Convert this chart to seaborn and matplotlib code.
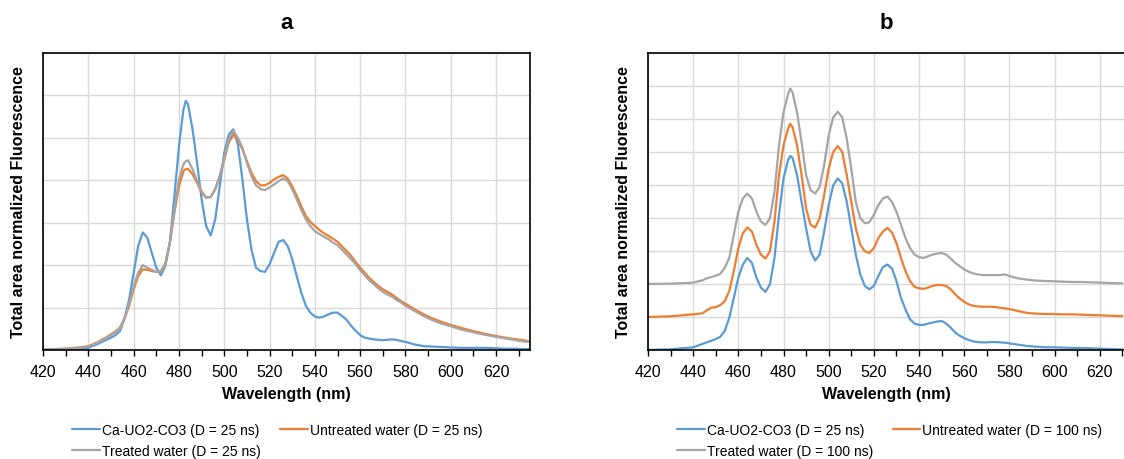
import matplotlib
matplotlib.use("Agg")
import matplotlib.pyplot as plt
import seaborn as sns
import pandas as pd
from matplotlib.ticker import MultipleLocator, NullFormatter

# ---------------- data (panel a) ----------------
wl_a = [420, 430, 436, 440, 444, 448,
        450, 452, 454, 456, 458, 460, 462, 464, 466, 468, 470, 472, 474, 476, 478, 480, 482,
        483,
        484, 486, 488, 490, 492, 494, 496, 498, 500, 502, 504, 506, 508, 510, 512, 514, 516, 518,
        520, 522, 524, 526, 528, 530, 532, 534, 536, 538, 540, 542, 544, 546, 548, 550, 552, 554,
        556, 558, 560, 562, 564, 566, 568, 570, 572, 574, 576, 578, 580,
        584, 588, 592, 596, 600, 604, 608, 612, 616, 620, 624, 628, 632, 635]

ca_a = [0.00, 0.01, 0.02, 0.05, 0.14, 0.24,
        0.29, 0.35, 0.45, 0.75, 1.19, 1.82, 2.45, 2.77, 2.65, 2.29, 1.94, 1.76, 1.98, 2.53, 3.63, 4.81, 5.67,
        5.87,
        5.79, 5.20, 4.41, 3.55, 2.92, 2.70, 3.08, 3.86, 4.65, 5.08, 5.20, 4.85, 4.02, 3.08, 2.37, 1.94, 1.86, 1.84,
        2.02, 2.29, 2.55, 2.59, 2.45, 2.14, 1.74, 1.35, 1.04, 0.88, 0.79, 0.76, 0.79, 0.84, 0.88, 0.88, 0.80, 0.71,
        0.57, 0.45, 0.35, 0.29, 0.27, 0.25, 0.24, 0.23, 0.24, 0.25, 0.24, 0.21, 0.19,
        0.13, 0.09, 0.08, 0.07, 0.06, 0.05, 0.05, 0.05, 0.05, 0.04, 0.03, 0.03, 0.02, 0.02]

untreated_a = [0.01, 0.03, 0.06, 0.09, 0.18, 0.30,
               0.37, 0.44, 0.53, 0.75, 1.04, 1.43, 1.74, 1.90, 1.89, 1.86, 1.84, 1.86, 2.04, 2.53, 3.24, 3.86, 4.22,
               4.26,
               4.27, 4.14, 3.94, 3.71, 3.59, 3.61, 3.79, 4.10, 4.49, 4.89, 5.08, 4.96, 4.73, 4.45, 4.18, 3.98, 3.88, 3.88,
               3.94, 4.02, 4.08, 4.12, 4.04, 3.86, 3.63, 3.39, 3.16, 3.02, 2.92, 2.83, 2.75, 2.69, 2.62, 2.55, 2.44, 2.33,
               2.22, 2.07, 1.94, 1.82, 1.70, 1.60, 1.51, 1.43, 1.37, 1.31, 1.23, 1.15, 1.09,
               0.96, 0.84, 0.74, 0.66, 0.59, 0.53, 0.47, 0.42, 0.37, 0.33, 0.29, 0.26, 0.23, 0.20]

treated_a = [0.01, 0.03, 0.05, 0.08, 0.17, 0.28,
             0.35, 0.42, 0.52, 0.76, 1.08, 1.50, 1.82, 2.00, 1.94, 1.89, 1.84, 1.85, 2.03, 2.55, 3.31, 4.02, 4.38,
             4.45,
             4.47, 4.26, 3.98, 3.74, 3.60, 3.60, 3.78, 4.10, 4.52, 4.96, 5.16, 5.00, 4.77, 4.41, 4.10, 3.88, 3.79, 3.77,
             3.83, 3.90, 3.98, 4.04, 3.98, 3.79, 3.55, 3.30, 3.08, 2.92, 2.80, 2.73, 2.67, 2.61, 2.53, 2.47, 2.36, 2.25,
             2.14, 2.02, 1.88, 1.76, 1.64, 1.55, 1.45, 1.37, 1.31, 1.26, 1.18, 1.12, 1.04,
             0.92, 0.80, 0.70, 0.62, 0.56, 0.49, 0.44, 0.39, 0.35, 0.31, 0.27, 0.24, 0.20, 0.19]

# ---------------- data (panel b) ----------------
wl_b = [420, 430, 440, 444, 446, 448,
        450, 452, 454, 456, 458, 460, 462, 464, 466, 468, 470, 472, 474, 476, 478, 480, 482,
        483,
        484, 486, 488, 490, 492, 494, 496, 498, 500, 502, 504, 506, 508, 510, 512, 514, 516, 518,
        520, 522, 524, 526, 528, 530, 532, 534, 536, 538, 540, 542, 544, 546, 548, 550, 552, 554,
        556, 558, 560, 562, 564, 566, 568, 570, 572, 574, 576, 578, 580,
        584, 588, 592, 596, 600, 604, 608, 612, 616, 620, 624, 628, 630]

ca_b = [0.00, 0.02, 0.08, 0.18, 0.23, 0.28,
        0.33, 0.40, 0.58, 0.98, 1.58, 2.19, 2.59, 2.79, 2.64, 2.19, 1.89, 1.76, 1.99, 2.79, 4.09, 5.20, 5.75,
        5.88,
        5.82, 5.30, 4.49, 3.69, 2.99, 2.71, 2.89, 3.59, 4.39, 4.99, 5.20, 5.05, 4.49, 3.69, 2.89, 2.29, 1.94, 1.84,
        1.94, 2.24, 2.51, 2.59, 2.47, 2.09, 1.58, 1.23, 0.93, 0.80, 0.76, 0.76, 0.80, 0.83, 0.86, 0.88, 0.80, 0.68,
        0.53, 0.43, 0.36, 0.30, 0.26, 0.24, 0.23, 0.23, 0.24, 0.24, 0.23, 0.22, 0.20,
        0.16, 0.12, 0.10, 0.08, 0.08, 0.07, 0.06, 0.06, 0.05, 0.04, 0.03, 0.02, 0.02]

untreated_b = [1.00, 1.02, 1.08, 1.11, 1.20, 1.28,
               1.30, 1.36, 1.48, 1.79, 2.39, 3.09, 3.54, 3.71, 3.59, 3.19, 2.89, 2.77, 2.99, 3.89, 5.30, 6.20, 6.70,
               6.85,
               6.75, 6.20, 5.30, 4.29, 3.79, 3.71, 3.99, 4.69, 5.50, 6.00, 6.18, 6.00, 5.30, 4.49, 3.69, 3.19, 2.99, 2.94,
               3.09, 3.39, 3.59, 3.70, 3.56, 3.24, 2.79, 2.39, 2.09, 1.91, 1.87, 1.85, 1.89, 1.94, 1.97, 1.97, 1.94, 1.84,
               1.69, 1.56, 1.46, 1.38, 1.34, 1.32, 1.31, 1.31, 1.31, 1.30, 1.28, 1.26, 1.24,
               1.18, 1.12, 1.10, 1.09, 1.09, 1.08, 1.08, 1.07, 1.06, 1.05, 1.04, 1.03, 1.03]

treated_b = [2.00, 2.01, 2.04, 2.11, 2.17, 2.21,
             2.25, 2.31, 2.49, 2.79, 3.49, 4.19, 4.59, 4.74, 4.59, 4.19, 3.89, 3.79, 3.99, 4.79, 6.20, 7.20, 7.75,
             7.92,
             7.80, 7.20, 6.30, 5.30, 4.84, 4.74, 4.94, 5.60, 6.50, 7.05, 7.22, 7.05, 6.40, 5.50, 4.49, 3.99, 3.84, 3.87,
             4.09, 4.39, 4.59, 4.65, 4.49, 4.19, 3.79, 3.39, 3.09, 2.89, 2.81, 2.79, 2.84, 2.89, 2.92, 2.94, 2.89, 2.77,
             2.64, 2.54, 2.44, 2.37, 2.32, 2.29, 2.27, 2.27, 2.27, 2.27, 2.27, 2.29, 2.24,
             2.17, 2.13, 2.10, 2.09, 2.08, 2.07, 2.06, 2.06, 2.05, 2.04, 2.03, 2.02, 2.02]

labels_a = ["Ca-UO2-CO3 (D = 25 ns)", "Untreated water (D = 25 ns)", "Treated water (D = 25 ns)"]
labels_b = ["Ca-UO2-CO3 (D = 25 ns)", "Untreated water (D = 100 ns)", "Treated water (D = 100 ns)"]
titles = ["a", "b"]
x_ticks = [420, 440, 460, 480, 500, 520, 540, 560, 580, 600, 620]

colors = ["#5B9BD5", "#ED7D31", "#A5A5A5"]

# ---------------- style ----------------
sns.set_style("white")
plt.rcParams["font.family"] = ["Liberation Sans", "DejaVu Sans"]
plt.rcParams["text.color"] = "black"
plt.rcParams["axes.labelcolor"] = "black"
plt.rcParams["xtick.color"] = "black"
plt.rcParams["ytick.color"] = "black"

fig = plt.figure(figsize=(11.24, 4.6), dpi=100)
ax_a = fig.add_axes([0.0383, 0.237, 0.4333, 0.6457])
ax_b = fig.add_axes([0.5765, 0.237, 0.4240, 0.6457])


def long_frame(wl, series, labels):
    frames = []
    for vals, lab in zip(series, labels):
        frames.append(pd.DataFrame({"wl": wl, "val": vals, "series": lab}))
    return pd.concat(frames, ignore_index=True)


df_a = long_frame(wl_a, [ca_a, untreated_a, treated_a], labels_a)
df_b = long_frame(wl_b, [ca_b, untreated_b, treated_b], labels_b)

panels = [
    (ax_a, df_a, labels_a, (420, 635), 7, 72),
    (ax_b, df_b, labels_b, (420, 631), 9, 677),
]

for (ax, df, labels, xlim, ntop, leg_px), title in zip(panels, titles):
    sns.lineplot(data=df, x="wl", y="val", hue="series", hue_order=labels,
                 palette=colors, linewidth=1.6, ax=ax, legend=True,
                 estimator=None, sort=True)
    ax.set_xlim(*xlim)
    ax.set_ylim(0, ntop)
    ax.set_xticks(x_ticks)
    ax.xaxis.set_minor_locator(MultipleLocator(10))
    ax.set_yticks(range(0, ntop + 1))
    ax.yaxis.set_major_formatter(NullFormatter())
    ax.tick_params(axis="y", length=0)
    ax.tick_params(axis="x", which="both", direction="out", length=4, width=1,
                   color="black", labelsize=11.5, pad=6, bottom=True)
    ax.grid(True, which="major", color="#D9D9D9", linewidth=1.0)
    ax.set_axisbelow(True)
    for s in ax.spines.values():
        s.set_color("black")
        s.set_linewidth(1.2)
    ax.set_xlabel("Wavelength (nm)", fontsize=11.5, fontweight="bold", labelpad=5)
    ax.set_ylabel("Total area normalized Fluorescence", fontsize=11.5, fontweight="bold", labelpad=9)
    ax.set_title(title, fontsize=16, fontweight="bold", pad=18)

    handles, labs = ax.get_legend_handles_labels()
    ax.get_legend().remove()
    order = [0, 2, 1]
    fig.legend([handles[i] for i in order], [labs[i] for i in order],
               loc="upper left", bbox_to_anchor=(leg_px / 1124, 0.078), ncol=2,
               frameon=False, fontsize=10, handlelength=2.0, handletextpad=0.15,
               columnspacing=1.4, labelspacing=0.5, borderaxespad=0.0, borderpad=0.0,
               bbox_transform=fig.transFigure)

fig.savefig("out.png", dpi=100)
